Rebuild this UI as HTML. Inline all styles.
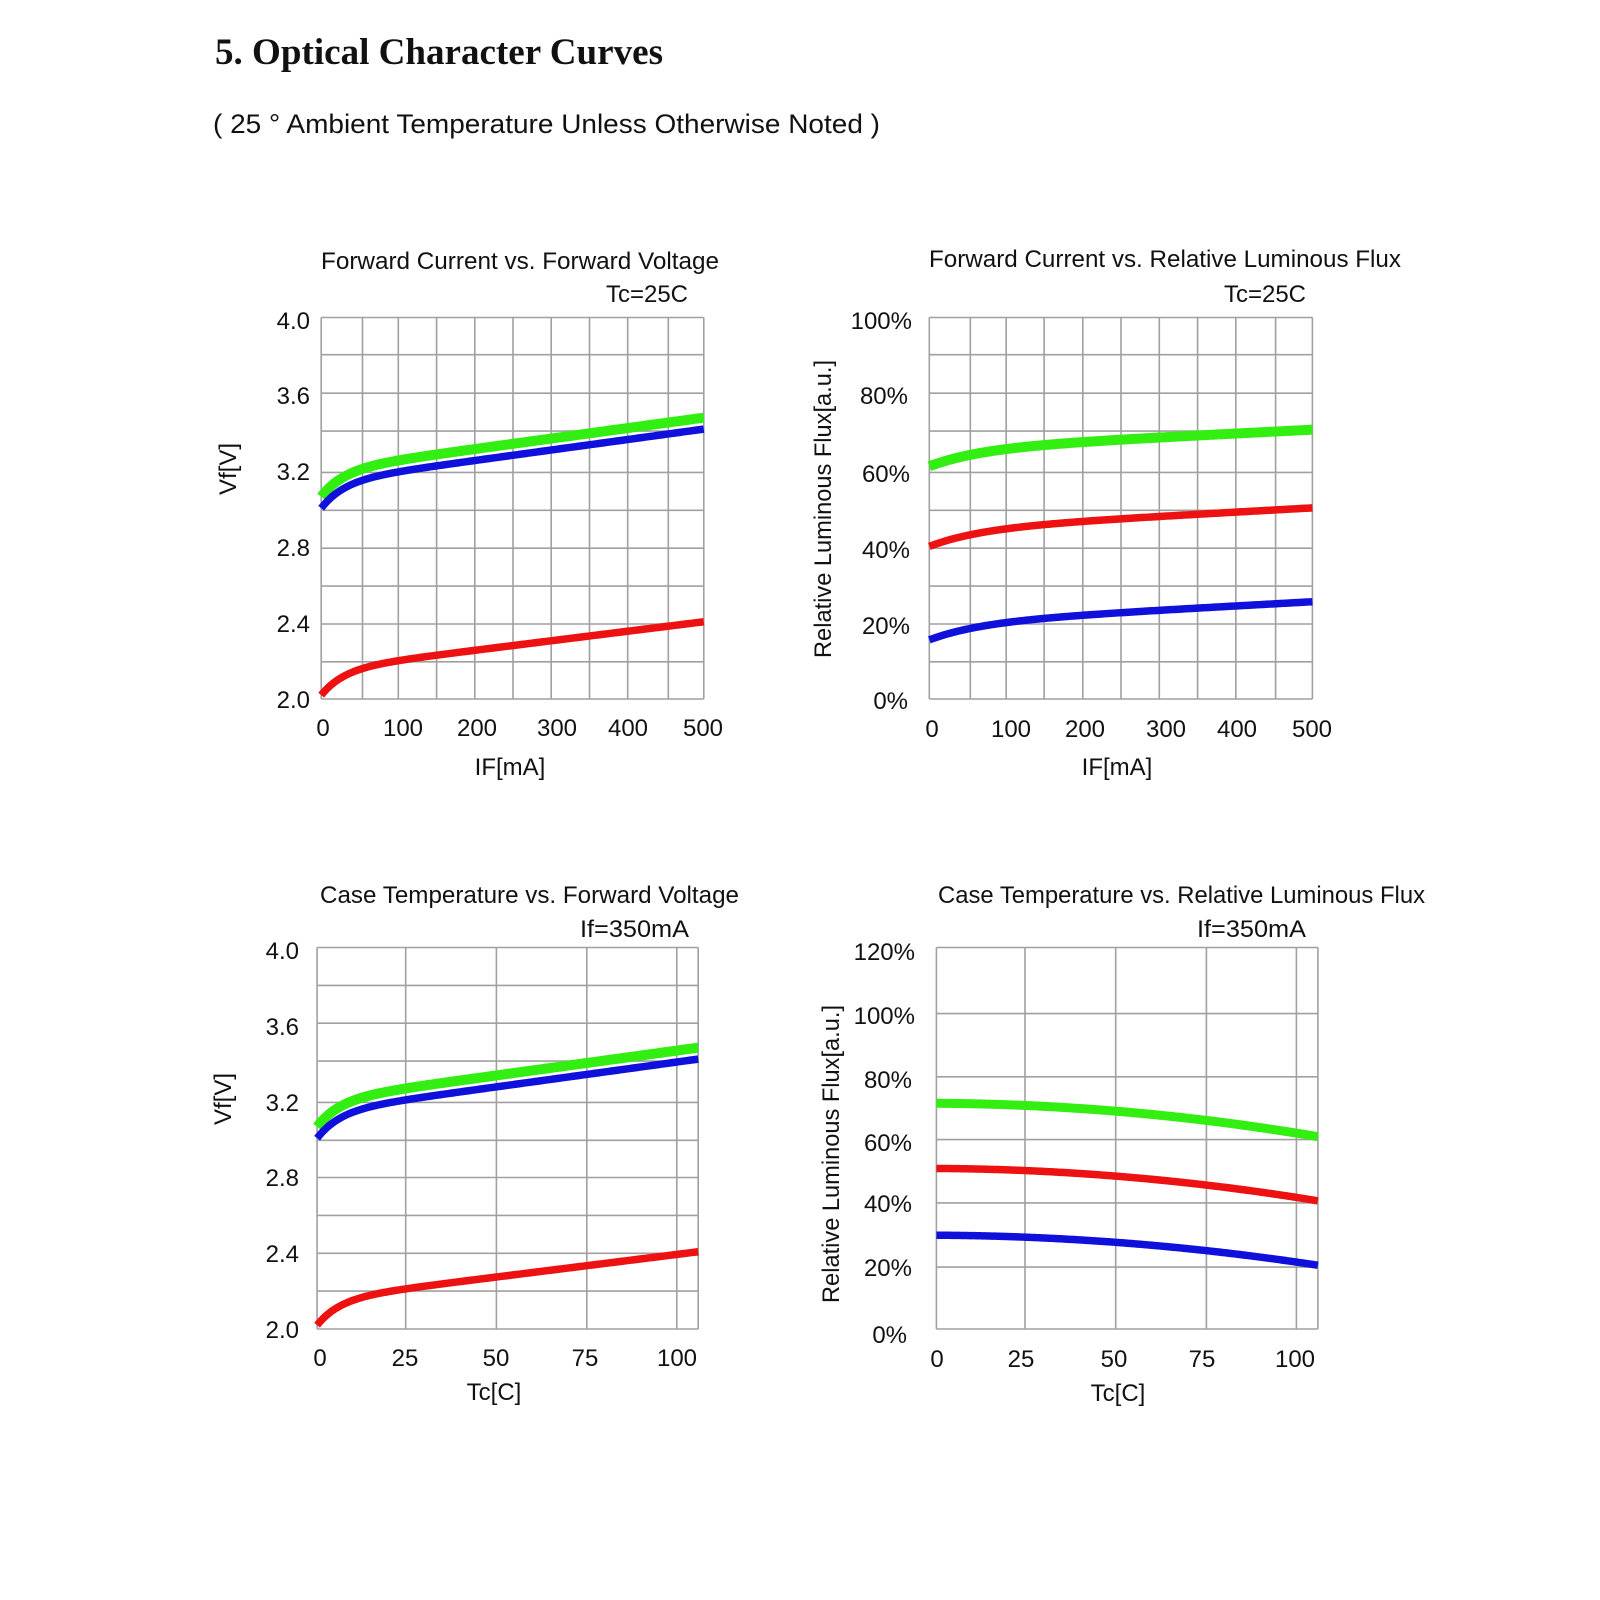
<!DOCTYPE html>
<html><head><meta charset="utf-8">
<style>
html,body{margin:0;padding:0;background:#fff;}
svg{display:block;}
text{font-family:"Liberation Sans",sans-serif;fill:#111;}
.t{font-size:24px;}
</style></head>
<body>
<svg id="s" width="1600" height="1600" viewBox="0 0 1600 1600" xmlns="http://www.w3.org/2000/svg">
<rect width="1600" height="1600" fill="#fff"/>
<text x="215" y="64" style="font-family:'Liberation Serif',serif;font-weight:bold;font-size:37px" textLength="448" lengthAdjust="spacingAndGlyphs">5. Optical Character Curves</text>
<text x="213" y="133" style="font-size:27px" textLength="667" lengthAdjust="spacingAndGlyphs">( 25 ° Ambient Temperature Unless Otherwise Noted )</text>

<g id="grid"></g>
<g id="curves"></g>

<!-- Chart 1 -->
<text class="t" x="321" y="269" textLength="398" lengthAdjust="spacingAndGlyphs">Forward Current vs. Forward Voltage</text>
<text class="t" x="606" y="302" textLength="82" lengthAdjust="spacingAndGlyphs">Tc=25C</text>
<g class="t" text-anchor="end">
<text x="310" y="329">4.0</text><text x="310" y="404">3.6</text><text x="310" y="480">3.2</text>
<text x="310" y="556">2.8</text><text x="310" y="632">2.4</text><text x="310" y="708">2.0</text>
</g>
<g class="t" text-anchor="middle">
<text x="323" y="736">0</text><text x="403" y="736">100</text><text x="477" y="736">200</text>
<text x="557" y="736">300</text><text x="628" y="736">400</text><text x="703" y="736">500</text>
<text x="510" y="775">IF[mA]</text>
</g>
<text class="t" text-anchor="middle" transform="translate(236,469) rotate(-90)">Vf[V]</text>

<!-- Chart 2 -->
<text class="t" x="929" y="267" textLength="472" lengthAdjust="spacingAndGlyphs">Forward Current vs. Relative Luminous Flux</text>
<text class="t" x="1224" y="302" textLength="82" lengthAdjust="spacingAndGlyphs">Tc=25C</text>
<g class="t" text-anchor="end">
<text x="912" y="329">100%</text><text x="908" y="404">80%</text><text x="910" y="482">60%</text>
<text x="910" y="558">40%</text><text x="910" y="634">20%</text><text x="908" y="709">0%</text>
</g>
<g class="t" text-anchor="middle">
<text x="932" y="737">0</text><text x="1011" y="737">100</text><text x="1085" y="737">200</text>
<text x="1166" y="737">300</text><text x="1237" y="737">400</text><text x="1312" y="737">500</text>
<text x="1117" y="775">IF[mA]</text>
</g>
<text class="t" text-anchor="middle" transform="translate(831,509) rotate(-90)" textLength="298" lengthAdjust="spacingAndGlyphs">Relative Luminous Flux[a.u.]</text>

<!-- Chart 3 -->
<text class="t" x="320" y="903" textLength="419" lengthAdjust="spacingAndGlyphs">Case Temperature vs. Forward Voltage</text>
<text class="t" x="580" y="937" textLength="109" lengthAdjust="spacingAndGlyphs">If=350mA</text>
<g class="t" text-anchor="end">
<text x="299" y="959">4.0</text><text x="299" y="1035">3.6</text><text x="299" y="1111">3.2</text>
<text x="299" y="1186">2.8</text><text x="299" y="1262">2.4</text><text x="299" y="1338">2.0</text>
</g>
<g class="t" text-anchor="middle">
<text x="320" y="1366">0</text><text x="405" y="1366">25</text><text x="496" y="1366">50</text>
<text x="585" y="1366">75</text><text x="677" y="1366">100</text>
<text x="494" y="1400">Tc[C]</text>
</g>
<text class="t" text-anchor="middle" transform="translate(231,1099) rotate(-90)">Vf[V]</text>

<!-- Chart 4 -->
<text class="t" x="938" y="903" textLength="487" lengthAdjust="spacingAndGlyphs">Case Temperature vs. Relative Luminous Flux</text>
<text class="t" x="1197" y="937" textLength="109" lengthAdjust="spacingAndGlyphs">If=350mA</text>
<g class="t" text-anchor="end">
<text x="915" y="960">120%</text><text x="915" y="1024">100%</text><text x="912" y="1088">80%</text>
<text x="912" y="1151">60%</text><text x="912" y="1212">40%</text><text x="912" y="1276">20%</text>
<text x="907" y="1343">0%</text>
</g>
<g class="t" text-anchor="middle">
<text x="937" y="1367">0</text><text x="1021" y="1367">25</text><text x="1114" y="1367">50</text>
<text x="1202" y="1367">75</text><text x="1295" y="1367">100</text>
<text x="1118" y="1401">Tc[C]</text>
</g>
<text class="t" text-anchor="middle" transform="translate(839,1154) rotate(-90)" textLength="298" lengthAdjust="spacingAndGlyphs">Relative Luminous Flux[a.u.]</text>
</svg>
<script>
(function(){
var NS="http://www.w3.org/2000/svg";
var grid=document.getElementById("grid"),cur=document.getElementById("curves");
function ln(x1,y1,x2,y2){var l=document.createElementNS(NS,"line");l.setAttribute("x1",x1);l.setAttribute("y1",y1);l.setAttribute("x2",x2);l.setAttribute("y2",y2);l.setAttribute("stroke","#a0a0a0");l.setAttribute("stroke-width","1.6");grid.appendChild(l);}
function G(xs,ys){var L=xs[0],R=xs[xs.length-1],T=ys[0],B=ys[ys.length-1];xs.forEach(function(x){ln(x,T,x,B)});ys.forEach(function(y){ln(L,y,R,y)});}
var H1=[317.5,354.7,393.2,431.1,472.4,510.3,548.2,586.1,624,661.8,699];
G([321.2,362.5,398.3,436.6,474.8,513,551.2,589.5,627.7,668.3,703.8],H1);
G([929.3,970.3,1006.2,1044.1,1082.8,1121,1159.3,1197.6,1235.8,1275.6,1312.4],H1);
G([317.1,405.7,496.4,586.8,676.8,698.2],[947.5,985.4,1023.2,1061.1,1102.4,1140.3,1177.5,1215.4,1253.3,1291.1,1329]);
G([936.4,1025,1115.7,1206.4,1296.4,1317.9],[947.5,1013.6,1076.8,1139.6,1202.9,1267.1,1329]);
function path(f,x0,x1,xa,xb,ya,yb,va,vb,color,w){
 var d="";for(var i=0;i<=200;i++){var x=x0+(x1-x0)*i/200;var v=f(x);
 var px=xa+(x-x0)/(x1-x0)*(xb-xa);var py=ya+(v-va)/(vb-va)*(yb-ya);
 d+=(i?"L":"M")+px.toFixed(2)+" "+py.toFixed(2);}
 var p=document.createElementNS(NS,"path");p.setAttribute("d",d);p.setAttribute("fill","none");p.setAttribute("stroke",color);p.setAttribute("stroke-width",w);p.setAttribute("stroke-linecap","butt");cur.appendChild(p);}
function vf(a,b,c){return function(x){return a+b*x+c*(1-Math.exp(-x/30));};}
var GR="#33ee11",BL="#1010dd",RD="#ee1111";
[[vf(3.06,0.00055,0.14),GR,10],[vf(3.0,0.00055,0.14),BL,7.5],[vf(2.02,0.0005,0.135),RD,7.5]].forEach(function(s){
 path(s[0],0,500,321.2,703.8,699,317.5,2.0,4.0,s[1],s[2]);
 path(s[0],0,500,317.1,698.2,1329,947.5,2.0,4.0,s[1],s[2]);
});
function lf(a,b,c){return function(x){return a+b*x+c*(1-Math.exp(-x/70));};}
[[lf(61,0.01,4.6),GR,10],[lf(40,0.011,4.6),RD,7.5],[lf(15.5,0.011,4.5),BL,7.5]].forEach(function(s){
 path(s[0],0,500,929.3,1312.4,699,317.5,0,100,s[1],s[2]);
});
function tf(a,k){return function(t){return a-k*(0.0062*t+0.000876*t*t);};}
[[tf(71,1),GR,9],[tf(50.5,0.97),RD,7.5],[tf(29.5,0.9),BL,7.5]].forEach(function(s){
 path(s[0],0,106,936.4,1317.9,1329,947.5,0,120,s[1],s[2]);
});
})();
</script>
</body></html>
